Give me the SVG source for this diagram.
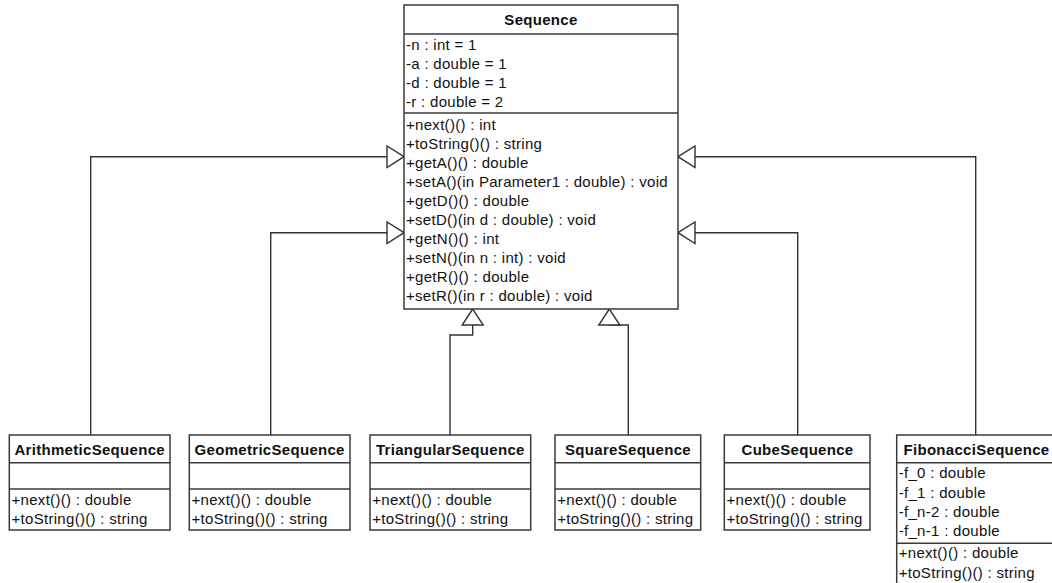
<svg xmlns="http://www.w3.org/2000/svg" width="1052" height="583" viewBox="0 0 1052 583">
<style>
.box{fill:#fff;stroke:#3a3a3a;stroke-width:1.5}
.div{stroke:#3a3a3a;stroke-width:1.5}
text{font-family:"Liberation Sans",Arial,sans-serif;font-size:15px;fill:#111;letter-spacing:0.3px}
.t{font-weight:bold;text-anchor:middle}
.c{fill:none;stroke:#333;stroke-width:1.4}
.h{fill:#fff;stroke:#333;stroke-width:1.4}
</style>
<rect width="1052" height="583" fill="#fff"/>
<g id="connectors">
<polyline class="c" points="90.7,435 90.7,156.7 387,156.7"/>
<polygon class="h" points="404,156.7 387,146 387,167.5"/>
<polyline class="c" points="270.7,435 270.7,232.7 387,232.7"/>
<polygon class="h" points="404,232.7 387,222 387,243.5"/>
<polyline class="c" points="450,435 450,335 472.7,335 472.7,325"/>
<polygon class="h" points="472.7,309 462.2,325 483.2,325"/>
<polyline class="c" points="628.3,435 628.3,325 609.3,325"/>
<polygon class="h" points="609.3,309 598.8,325 619.8,325"/>
<polyline class="c" points="797.7,435 797.7,232.7 695,232.7"/>
<polygon class="h" points="678,232.7 695,222 695,243.5"/>
<polyline class="c" points="975.7,435 975.7,156.7 695,156.7"/>
<polygon class="h" points="678,156.7 695,146 695,167.5"/>
</g>
<g id="Sequence">
<rect class="box" x="404" y="5" width="274" height="304"/>
<line class="div" x1="404" y1="34" x2="678" y2="34"/>
<line class="div" x1="404" y1="113" x2="678" y2="113"/>
<text class="t" x="541" y="24.5">Sequence</text>
<text x="406" y="50">-n : int = 1</text>
<text x="406" y="69">-a : double = 1</text>
<text x="406" y="88">-d : double = 1</text>
<text x="406" y="107">-r : double = 2</text>
<text x="406" y="130">+next()() : int</text>
<text x="406" y="149">+toString()() : string</text>
<text x="406" y="168">+getA()() : double</text>
<text x="406" y="187">+setA()(in Parameter1 : double) : void</text>
<text x="406" y="206">+getD()() : double</text>
<text x="406" y="225">+setD()(in d : double) : void</text>
<text x="406" y="244">+getN()() : int</text>
<text x="406" y="262.5">+setN()(in n : int) : void</text>
<text x="406" y="281.5">+getR()() : double</text>
<text x="406" y="300.5">+setR()(in r : double) : void</text>
</g>
<g id="ArithmeticSequence">
<rect class="box" x="9.3" y="435" width="160.7" height="95"/>
<line class="div" x1="9.3" y1="462.7" x2="170" y2="462.7"/>
<line class="div" x1="9.3" y1="489" x2="170" y2="489"/>
<text class="t" x="89.7" y="454.5">ArithmeticSequence</text>
<text x="11.5" y="505">+next()() : double</text>
<text x="11.5" y="524">+toString()() : string</text>
</g>
<g id="GeometricSequence">
<rect class="box" x="189.3" y="435" width="160.7" height="95"/>
<line class="div" x1="189.3" y1="462.7" x2="350" y2="462.7"/>
<line class="div" x1="189.3" y1="489" x2="350" y2="489"/>
<text class="t" x="269.7" y="454.5">GeometricSequence</text>
<text x="191.5" y="505">+next()() : double</text>
<text x="191.5" y="524">+toString()() : string</text>
</g>
<g id="TriangularSequence">
<rect class="box" x="370" y="435" width="160.7" height="95"/>
<line class="div" x1="370" y1="462.7" x2="530.7" y2="462.7"/>
<line class="div" x1="370" y1="489" x2="530.7" y2="489"/>
<text class="t" x="450.3" y="454.5">TriangularSequence</text>
<text x="372.2" y="505">+next()() : double</text>
<text x="372.2" y="524">+toString()() : string</text>
</g>
<g id="SquareSequence">
<rect class="box" x="555" y="435" width="145.7" height="95"/>
<line class="div" x1="555" y1="462.7" x2="700.7" y2="462.7"/>
<line class="div" x1="555" y1="489" x2="700.7" y2="489"/>
<text class="t" x="628" y="454.5">SquareSequence</text>
<text x="557.2" y="505">+next()() : double</text>
<text x="557.2" y="524">+toString()() : string</text>
</g>
<g id="CubeSequence">
<rect class="box" x="724.3" y="435" width="145.7" height="95"/>
<line class="div" x1="724.3" y1="462.7" x2="870" y2="462.7"/>
<line class="div" x1="724.3" y1="489" x2="870" y2="489"/>
<text class="t" x="797.5" y="454.5">CubeSequence</text>
<text x="726.5" y="505">+next()() : double</text>
<text x="726.5" y="524">+toString()() : string</text>
</g>
<g id="FibonacciSequence">
<rect class="box" x="896.7" y="435" width="160" height="160"/>
<line class="div" x1="896.7" y1="462.7" x2="1056.7" y2="462.7"/>
<line class="div" x1="896.7" y1="543.3" x2="1056.7" y2="543.3"/>
<text class="t" x="976.5" y="454.5">FibonacciSequence</text>
<text x="898.7" y="478">-f_0 : double</text>
<text x="898.7" y="497.5">-f_1 : double</text>
<text x="898.7" y="516.7">-f_n-2 : double</text>
<text x="898.7" y="536">-f_n-1 : double</text>
<text x="898.7" y="558">+next()() : double</text>
<text x="898.7" y="578">+toString()() : string</text>
</g>
</svg>
